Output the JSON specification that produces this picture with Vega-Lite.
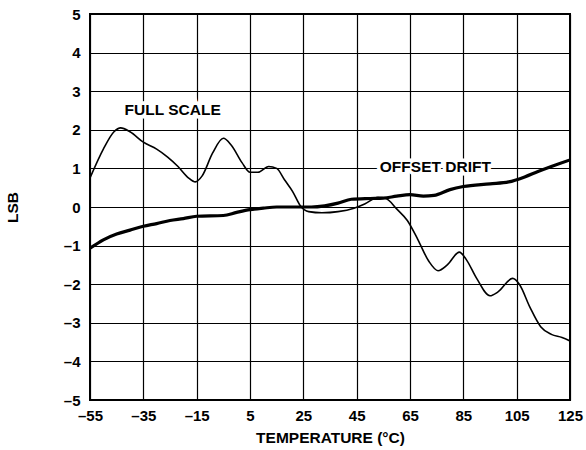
{
  "$schema": "https://vega.github.io/schema/vega-lite/v6.json",
  "width": 480,
  "height": 386,
  "autosize": {"type": "none"},
  "padding": {"left": 90, "top": 14, "right": 16, "bottom": 50},
  "background": "white",
  "config": {
    "font": "Liberation Sans",
    "view": {"stroke": "black", "strokeWidth": 2},
    "axis": {
      "labelFont": "Liberation Sans",
      "labelFontWeight": "bold",
      "labelFontSize": 15,
      "labelColor": "black",
      "labelOverlap": false,
      "labelFlush": false,
      "titleFont": "Liberation Sans",
      "titleFontWeight": "bold",
      "titleFontSize": 15.5,
      "titleColor": "black",
      "grid": true,
      "gridColor": "black",
      "gridOpacity": 1,
      "gridWidth": 1.2,
      "domain": false,
      "ticks": false
    }
  },
  "datasets": {
    "curves": [
      {"series": "full", "t": -55, "lsb": 0.75},
      {"series": "full", "t": -50, "lsb": 1.5},
      {"series": "full", "t": -46, "lsb": 1.95},
      {"series": "full", "t": -43.5, "lsb": 2.05},
      {"series": "full", "t": -40, "lsb": 1.95},
      {"series": "full", "t": -35, "lsb": 1.68},
      {"series": "full", "t": -30, "lsb": 1.5},
      {"series": "full", "t": -26, "lsb": 1.3},
      {"series": "full", "t": -22, "lsb": 1.05},
      {"series": "full", "t": -18, "lsb": 0.75},
      {"series": "full", "t": -15.5, "lsb": 0.65},
      {"series": "full", "t": -13, "lsb": 0.8},
      {"series": "full", "t": -9, "lsb": 1.4},
      {"series": "full", "t": -5, "lsb": 1.78},
      {"series": "full", "t": -2, "lsb": 1.6},
      {"series": "full", "t": 2, "lsb": 1.15},
      {"series": "full", "t": 5, "lsb": 0.9},
      {"series": "full", "t": 8, "lsb": 0.9},
      {"series": "full", "t": 12, "lsb": 1.05},
      {"series": "full", "t": 15, "lsb": 1.0},
      {"series": "full", "t": 18, "lsb": 0.7},
      {"series": "full", "t": 21, "lsb": 0.4},
      {"series": "full", "t": 24, "lsb": 0.02},
      {"series": "full", "t": 27, "lsb": -0.12},
      {"series": "full", "t": 32, "lsb": -0.15},
      {"series": "full", "t": 38, "lsb": -0.12},
      {"series": "full", "t": 44, "lsb": -0.03},
      {"series": "full", "t": 48, "lsb": 0.08},
      {"series": "full", "t": 53, "lsb": 0.25},
      {"series": "full", "t": 56, "lsb": 0.22},
      {"series": "full", "t": 60, "lsb": -0.05},
      {"series": "full", "t": 64, "lsb": -0.35},
      {"series": "full", "t": 68, "lsb": -0.85},
      {"series": "full", "t": 72, "lsb": -1.4},
      {"series": "full", "t": 75.5, "lsb": -1.65},
      {"series": "full", "t": 79, "lsb": -1.5},
      {"series": "full", "t": 83.5, "lsb": -1.17},
      {"series": "full", "t": 86, "lsb": -1.35},
      {"series": "full", "t": 90, "lsb": -1.85},
      {"series": "full", "t": 95, "lsb": -2.3},
      {"series": "full", "t": 98, "lsb": -2.2},
      {"series": "full", "t": 103.5, "lsb": -1.85},
      {"series": "full", "t": 106, "lsb": -2.0},
      {"series": "full", "t": 110, "lsb": -2.6},
      {"series": "full", "t": 114, "lsb": -3.1},
      {"series": "full", "t": 118, "lsb": -3.3},
      {"series": "full", "t": 122, "lsb": -3.38},
      {"series": "full", "t": 125, "lsb": -3.47},
      {"series": "offset", "t": -55, "lsb": -1.07},
      {"series": "offset", "t": -50, "lsb": -0.85},
      {"series": "offset", "t": -45, "lsb": -0.7},
      {"series": "offset", "t": -40, "lsb": -0.6},
      {"series": "offset", "t": -35, "lsb": -0.5},
      {"series": "offset", "t": -30, "lsb": -0.43},
      {"series": "offset", "t": -25, "lsb": -0.35},
      {"series": "offset", "t": -20, "lsb": -0.3},
      {"series": "offset", "t": -15, "lsb": -0.24},
      {"series": "offset", "t": -5, "lsb": -0.22},
      {"series": "offset", "t": 0, "lsb": -0.14},
      {"series": "offset", "t": 5, "lsb": -0.07},
      {"series": "offset", "t": 10, "lsb": -0.03},
      {"series": "offset", "t": 15, "lsb": 0},
      {"series": "offset", "t": 28, "lsb": 0},
      {"series": "offset", "t": 33, "lsb": 0.03},
      {"series": "offset", "t": 38, "lsb": 0.1},
      {"series": "offset", "t": 43, "lsb": 0.2},
      {"series": "offset", "t": 50, "lsb": 0.22},
      {"series": "offset", "t": 55, "lsb": 0.23},
      {"series": "offset", "t": 60, "lsb": 0.28},
      {"series": "offset", "t": 65, "lsb": 0.32},
      {"series": "offset", "t": 70, "lsb": 0.28},
      {"series": "offset", "t": 74, "lsb": 0.3},
      {"series": "offset", "t": 80, "lsb": 0.45},
      {"series": "offset", "t": 85, "lsb": 0.53},
      {"series": "offset", "t": 95, "lsb": 0.6},
      {"series": "offset", "t": 102, "lsb": 0.65},
      {"series": "offset", "t": 108, "lsb": 0.78},
      {"series": "offset", "t": 113, "lsb": 0.92},
      {"series": "offset", "t": 118, "lsb": 1.05},
      {"series": "offset", "t": 125, "lsb": 1.22}
    ],
    "labels": [
      {"t": -24, "lsb": 2.52, "text": "FULL SCALE"},
      {"t": 74.5, "lsb": 1.04, "text": "OFFSET DRIFT"}
    ]
  },
  "layer": [
    {
      "data": {"name": "curves"},
      "transform": [{"filter": "datum.series === 'full'"}],
      "mark": {"type": "line", "color": "black", "strokeWidth": 1.6, "interpolate": "monotone", "clip": true},
      "encoding": {
        "x": {
          "field": "t",
          "type": "quantitative",
          "scale": {"domain": [-55, 125], "nice": false, "zero": false},
          "axis": {
            "values": [-55, -35, -15, 5, 25, 45, 65, 85, 105, 125],
            "tickCount": 20,
            "labelExpr": "datum.value < 0 ? '–' + abs(datum.value) : '' + datum.value",
            "labelPadding": 8,
            "title": "TEMPERATURE (°C)",
            "titlePadding": 7
          }
        },
        "y": {
          "field": "lsb",
          "type": "quantitative",
          "scale": {"domain": [-5, 5], "nice": false, "zero": false},
          "axis": {
            "values": [-5, -4, -3, -2, -1, 0, 1, 2, 3, 4, 5],
            "tickCount": 20,
            "labelExpr": "datum.value < 0 ? '–' + abs(datum.value) : '' + datum.value",
            "labelPadding": 10,
            "title": "LSB",
            "titlePadding": 43
          }
        }
      }
    },
    {
      "data": {"name": "curves"},
      "transform": [{"filter": "datum.series === 'offset'"}],
      "mark": {"type": "line", "color": "black", "strokeWidth": 3.2, "interpolate": "monotone", "clip": true},
      "encoding": {
        "x": {"field": "t", "type": "quantitative"},
        "y": {"field": "lsb", "type": "quantitative"}
      }
    },
    {
      "data": {"name": "labels"},
      "mark": {"type": "text", "font": "Liberation Sans", "fontWeight": "bold", "fontSize": 15.5, "color": "white", "stroke": "white", "strokeWidth": 7, "align": "center", "baseline": "middle"},
      "encoding": {
        "x": {"field": "t", "type": "quantitative"},
        "y": {"field": "lsb", "type": "quantitative"},
        "text": {"field": "text"}
      }
    },
    {
      "data": {"name": "labels"},
      "mark": {"type": "text", "font": "Liberation Sans", "fontWeight": "bold", "fontSize": 15.5, "color": "black", "align": "center", "baseline": "middle"},
      "encoding": {
        "x": {"field": "t", "type": "quantitative"},
        "y": {"field": "lsb", "type": "quantitative"},
        "text": {"field": "text"}
      }
    }
  ]
}
